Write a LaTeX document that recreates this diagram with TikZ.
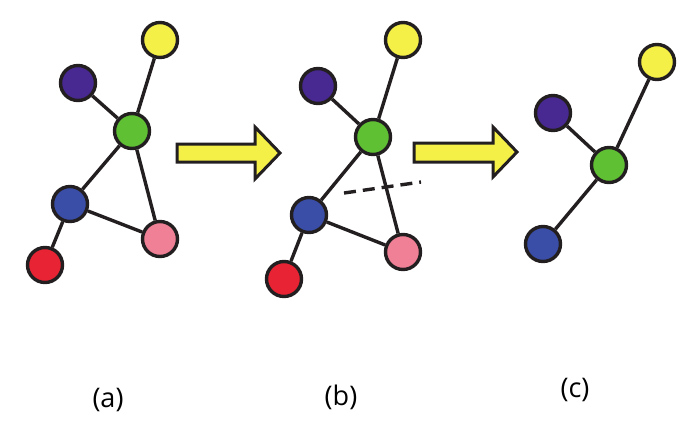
\documentclass[tikz,border=0pt]{standalone}
\usepackage{fontspec}
\setmainfont{Open Sans}
\usepackage{tikz}
\usetikzlibrary{positioning}
\definecolor{vtxyellow}{RGB}{245, 240, 72}
\definecolor{vtxpurple}{RGB}{72, 40, 145}
\definecolor{vtxgreen}{RGB}{96, 192, 52}
\definecolor{vtxblue}{RGB}{58, 78, 168}
\definecolor{vtxpink}{RGB}{240, 128, 150}
\definecolor{vtxred}{RGB}{232, 36, 52}
\definecolor{inkdark}{RGB}{35, 31, 32}

\begin{document}
\begin{tikzpicture}[
    x=1pt, y=-1pt,
    every node/.style={font=\fontsize{27}{32}\selectfont},
    vertex/.style={circle, draw=inkdark, line width=3.4pt, minimum size=35pt, inner sep=0pt},
    edge/.style={draw=inkdark, line width=3.4pt},
    cutline/.style={draw=inkdark, line width=3.4pt, dash pattern=on 12pt off 7pt},
    bigarrow/.style={fill=vtxyellow, draw=inkdark, line width=3pt, line join=miter}
]
\useasboundingbox (0,0) rectangle (694,424);

% Graph (a)
\node[vertex, fill=vtxyellow] (ay) at (160, 40) {};
\node[vertex, fill=vtxpurple] (ap) at (78, 83) {};
\node[vertex, fill=vtxgreen] (ag) at (132, 131) {};
\node[vertex, fill=vtxblue] (ab) at (70, 204) {};
\node[vertex, fill=vtxpink] (ak) at (160, 239) {};
\node[vertex, fill=vtxred] (ar) at (45, 265) {};
\draw[edge] (ay) -- (ag);
\draw[edge] (ap) -- (ag);
\draw[edge] (ag) -- (ab);
\draw[edge] (ag) -- (ak);
\draw[edge] (ab) -- (ak);
\draw[edge] (ab) -- (ar);

% Arrow (a) -> (b)
\draw[bigarrow] (177,144) -- (255,144) -- (255,127) -- (280,153) -- (255,179) -- (255,162) -- (177,162) -- cycle;

% Graph (b)
\node[vertex, fill=vtxyellow] (by) at (403, 40) {};
\node[vertex, fill=vtxpurple] (bp) at (318, 86) {};
\node[vertex, fill=vtxgreen] (bg) at (373, 137) {};
\node[vertex, fill=vtxblue] (bb) at (309, 215) {};
\node[vertex, fill=vtxpink] (bk) at (403, 252) {};
\node[vertex, fill=vtxred] (br) at (284, 279) {};
\draw[edge] (by) -- (bg);
\draw[edge] (bp) -- (bg);
\draw[edge] (bg) -- (bb);
\draw[edge] (bg) -- (bk);
\draw[edge] (bb) -- (bk);
\draw[edge] (bb) -- (br);
\coordinate (cutL) at (344, 193);
\coordinate (cutR) at (421, 182);
\draw[cutline] (cutL) -- (cutR);

% Arrow (b) -> (c)
\draw[bigarrow] (414,143) -- (493,143) -- (493,127) -- (517,152) -- (493,177) -- (493,162) -- (414,162) -- cycle;

% Graph (c)
\node[vertex, fill=vtxyellow] (cy) at (657, 62) {};
\node[vertex, fill=vtxpurple] (cp) at (553, 113) {};
\node[vertex, fill=vtxgreen] (cg) at (609, 165) {};
\node[vertex, fill=vtxblue] (cb) at (543, 244) {};
\draw[edge] (cy) -- (cg);
\draw[edge] (cp) -- (cg);
\draw[edge] (cg) -- (cb);

% Labels
\node (la) at (108, 400) {(a)};
\node (lb) at (341, 397) {(b)};
\node (lc) at (575, 390) {(c)};

\end{tikzpicture}
\end{document}
